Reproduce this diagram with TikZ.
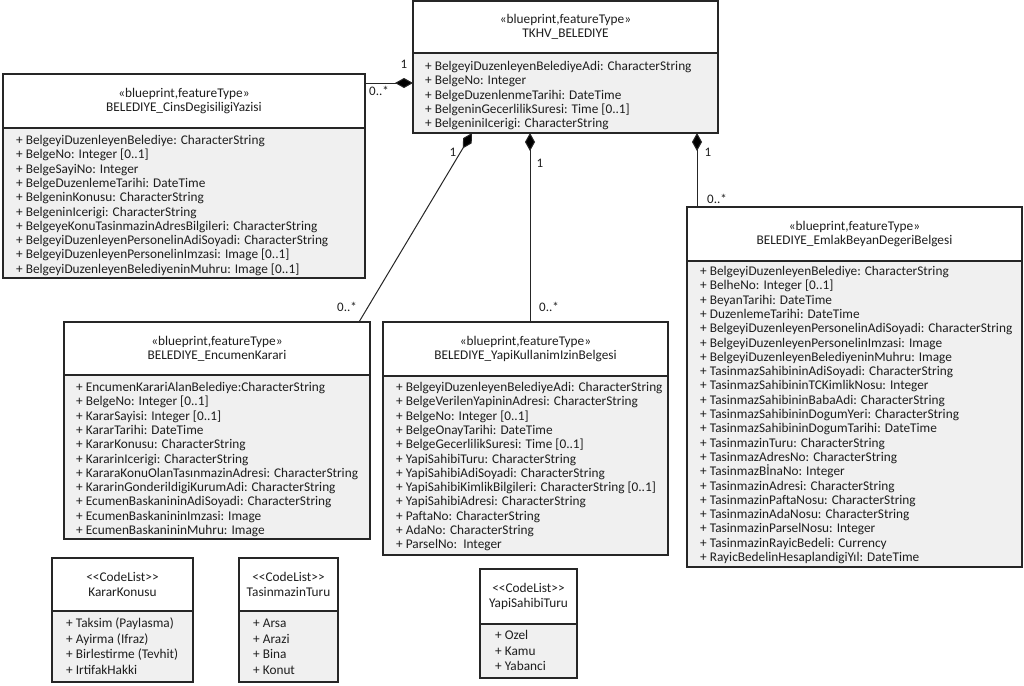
\documentclass[tikz,border=0pt]{standalone}
\usepackage{fontspec}
\setmainfont{Carlito}
\usetikzlibrary{arrows.meta}
\definecolor{linec}{HTML}{262626}
\definecolor{fillc}{HTML}{F0F0F0}
\definecolor{txtc}{HTML}{1E1E1E}
\tikzset{
  boxframe/.style={draw=linec, line width=1.2pt, inner sep=0pt, outer sep=0pt},
  divline/.style={draw=linec, line width=1.2pt},
  attrfill/.style={fill=fillc},
  attr/.style={font=\fontsize{13.3}{14.3}\selectfont, inner sep=0pt, text=txtc},
  head/.style={font=\fontsize{13.3}{14.3}\selectfont, align=center, inner sep=0pt, text=txtc},
  headcl/.style={font=\fontsize{13.3}{15}\selectfont, align=center, inner sep=0pt, text=txtc},
  lbl/.style={font=\fontsize{13}{14}\selectfont, inner sep=0pt, text=txtc},
  comp/.style={draw=linec, line width=1pt, {Diamond[length=18pt,width=10pt,fill=black]}-},
}
\newcommand{\umlbox}[6]{%
  \fill[attrfill] (#2,#6) rectangle (#4,#5);
  \node[boxframe, anchor=north west, minimum width={(#4-#2)*1pt}, minimum height={(#5-#3)*1pt}] (#1) at (#2,#3) {};
  \draw[divline] (#2,#6) -- (#4,#6);
}
\newcommand{\attrlist}[5]{%
  \foreach \t [count=\i from 0] in {#5} {
    \node[attr, anchor=base west] (#1-\i) at (#2, {#3+#4*\i}) {\t};
  }%
}
\begin{document}
\begin{tikzpicture}[x=1pt,y=-1pt]
\fill[white] (0,0) rectangle (1024,685);
\useasboundingbox (0,0) rectangle (1024,685);

% ---- TKHV_BELEDIYE
\umlbox{top}{413}{1}{718}{133}{53}
\node[head] (top-h) at (565.5,27) {«blueprint,featureType»\\TKHV\_BELEDIYE};
\attrlist{top}{425}{70.5}{14.3}{%
+ BelgeyiDuzenleyenBelediyeAdi: CharacterString,
+ BelgeNo: Integer,
+ BelgeDuzenlenmeTarihi: DateTime,
+ BelgeninGecerlilikSuresi: Time [0..1],
+ BelgeniniIcerigi: CharacterString}

% ---- BELEDIYE_CinsDegisiligiYazisi
\umlbox{cins}{3}{74}{365}{278}{128}
\node[head] (cins-h) at (184,101) {«blueprint,featureType»\\BELEDIYE\_CinsDegisiligiYazisi};
\attrlist{cins}{16}{144.5}{14.3}{%
+ BelgeyiDuzenleyenBelediye: CharacterString,
+ BelgeNo: Integer [0..1],
+ BelgeSayiNo: Integer,
+ BelgeDuzenlemeTarihi: DateTime,
+ BelgeninKonusu: CharacterString,
+ BelgeninIcerigi: CharacterString,
+ BelgeyeKonuTasinmazinAdresBilgileri: CharacterString,
+ BelgeyiDuzenleyenPersonelinAdiSoyadi: CharacterString,
+ BelgeyiDuzenleyenPersonelinImzasi: Image [0..1],
+ BelgeyiDuzenleyenBelediyeninMuhru: Image [0..1]}

% ---- BELEDIYE_EncumenKarari
\umlbox{enc}{64}{322}{370}{539}{375}
\node[head] (enc-h) at (217,348.5) {«blueprint,featureType»\\BELEDIYE\_EncumenKarari};
\attrlist{enc}{76}{391.5}{14.3}{%
+ EncumenKarariAlanBelediye:CharacterString,
+ BelgeNo: Integer [0..1],
+ KararSayisi: Integer [0..1],
+ KararTarihi: DateTime,
+ KararKonusu: CharacterString,
+ KararinIcerigi: CharacterString,
+ KararaKonuOlanTasınmazinAdresi: CharacterString,
+ KararinGonderildigiKurumAdi: CharacterString,
+ EcumenBaskanininAdiSoyadi: CharacterString,
+ EcumenBaskanininImzasi: Image,
+ EcumenBaskanininMuhru: Image}

% ---- BELEDIYE_YapiKullanimIzinBelgesi
\umlbox{yapi}{383}{322}{668}{555}{376}
\node[head] (yapi-h) at (525.5,349) {«blueprint,featureType»\\BELEDIYE\_YapiKullanimIzinBelgesi};
\attrlist{yapi}{396}{391.5}{14.3}{%
+ BelgeyiDuzenleyenBelediyeAdi: CharacterString,
+ BelgeVerilenYapininAdresi: CharacterString,
+ BelgeNo: Integer [0..1],
+ BelgeOnayTarihi: DateTime,
+ BelgeGecerlilikSuresi: Time [0..1],
+ YapiSahibiTuru: CharacterString,
+ YapiSahibiAdiSoyadi: CharacterString,
+ YapiSahibiKimlikBilgileri: CharacterString [0..1],
+ YapiSahibiAdresi: CharacterString,
+ PaftaNo: CharacterString,
+ AdaNo: CharacterString,
+ ParselNo:\ \ Integer}

% ---- BELEDIYE_EmlakBeyanDegeriBelgesi
\umlbox{emlak}{687}{207}{1022}{567}{261}
\node[head] (emlak-h) at (854.5,234) {«blueprint,featureType»\\BELEDIYE\_EmlakBeyanDegeriBelgesi};
\attrlist{emlak}{700}{275.5}{14.3}{%
+ BelgeyiDuzenleyenBelediye: CharacterString,
+ BelheNo: Integer [0..1],
+ BeyanTarihi: DateTime,
+ DuzenlemeTarihi: DateTime,
+ BelgeyiDuzenleyenPersonelinAdiSoyadi: CharacterString,
+ BelgeyiDuzenleyenPersonelinImzasi: Image,
+ BelgeyiDuzenleyenBelediyeninMuhru: Image,
+ TasinmazSahibininAdiSoyadi: CharacterString,
+ TasinmazSahibininTCKimlikNosu: Integer,
+ TasinmazSahibininBabaAdi: CharacterString,
+ TasinmazSahibininDogumYeri: CharacterString,
+ TasinmazSahibininDogumTarihi: DateTime,
+ TasinmazinTuru: CharacterString,
+ TasinmazAdresNo: CharacterString,
+ TasinmazBİnaNo: Integer,
+ TasinmazinAdresi: CharacterString,
+ TasinmazinPaftaNosu: CharacterString,
+ TasinmazinAdaNosu: CharacterString,
+ TasinmazinParselNosu: Integer,
+ TasinmazinRayicBedeli: Currency,
+ RayicBedelinHesaplandigiYıl: DateTime}

% ---- CodeLists
\umlbox{kk}{52}{558}{193}{682}{611}
\node[headcl] (kk-h) at (122.5,584.5) {<{}<CodeList>{}>\\KararKonusu};
\attrlist{kk}{66}{627.5}{15.5}{%
+ Taksim (Paylasma),
+ Ayirma (Ifraz),
+ Birlestirme (Tevhit),
+ IrtifakHakki}

\umlbox{tt}{239}{558}{338}{682}{611}
\node[headcl] (tt-h) at (288.5,584.5) {<{}<CodeList>{}>\\TasinmazinTuru};
\attrlist{tt}{253}{627.5}{15.5}{%
+ Arsa,
+ Arazi,
+ Bina,
+ Konut}

\umlbox{ys}{480}{569}{577}{678}{624}
\node[headcl] (ys-h) at (528.5,596.5) {<{}<CodeList>{}>\\YapiSahibiTuru};
\attrlist{ys}{495}{639.5}{15.5}{%
+ Ozel,
+ Kamu,
+ Yabanci}

% ---- connectors
\coordinate (k1) at ([yshift=-9pt]cins.north east);
\draw[comp] (k1 -| top.west) -- (k1);
\draw[comp] ([xshift=59pt]top.south west) -- ([xshift=-11pt]enc.north east);
\draw[comp] ([xshift=117pt]top.south west) -- ([xshift=147pt]yapi.north west);
\draw[comp] ([xshift=284pt]top.south west) -- ([xshift=10pt]emlak.north west);

% ---- multiplicities
\node[lbl] (m1a) at (404,64) {1};
\node[lbl] (m1b) at (379,91) {0..*};
\node[lbl] (m2a) at (453,152) {1};
\node[lbl] (m2b) at (347,307) {0..*};
\node[lbl] (m3a) at (540,163) {1};
\node[lbl] (m3b) at (549,307) {0..*};
\node[lbl] (m4a) at (708,152) {1};
\node[lbl] (m4b) at (717,199) {0..*};
\end{tikzpicture}
\end{document}
